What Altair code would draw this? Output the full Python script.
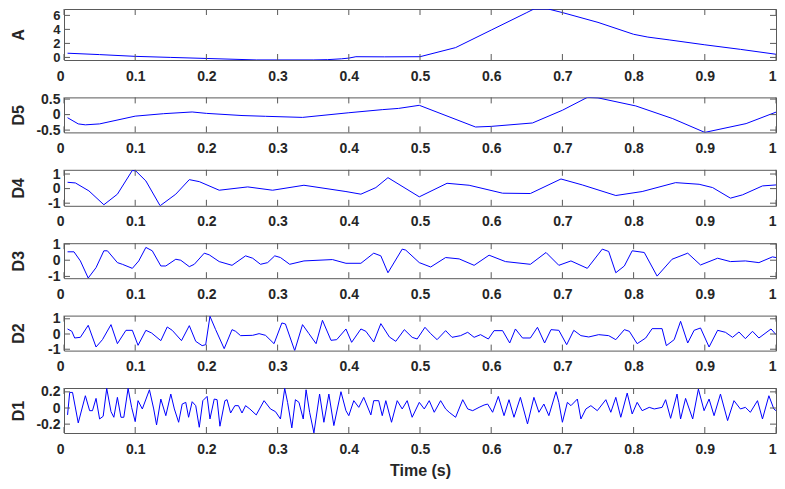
import altair as alt
import pandas as pd

# ---------------- data ----------------
X_TICKS = [0, 0.1, 0.2, 0.3, 0.4, 0.5, 0.6, 0.7, 0.8, 0.9, 1]

A_T = [0.005, 0.05, 0.1, 0.15, 0.2, 0.25, 0.27, 0.3, 0.35, 0.37, 0.39, 0.4, 0.41, 0.45, 0.5,
       0.55, 0.6, 0.65, 0.66, 0.68, 0.7, 0.75, 0.8, 0.82, 0.85, 0.9, 0.95, 1.0]
A_V = [0.6, 0.4, 0.15, 0.0, -0.15, -0.3, -0.36, -0.36, -0.36, -0.32, -0.2, -0.1, 0.1, 0.08, 0.1,
       1.4, 3.9, 6.4, 6.91, 6.91, 6.4, 5.0, 3.3, 2.9, 2.5, 1.8, 1.15, 0.45]

D5_T = [0.005, 0.02, 0.03, 0.05, 0.1, 0.14, 0.18, 0.2, 0.25, 0.283, 0.335, 0.4, 0.447, 0.47, 0.499,
        0.578, 0.6, 0.658, 0.7, 0.735, 0.75, 0.803, 0.855, 0.9, 0.958, 1.0]
D5_V = [-0.1, -0.3, -0.33, -0.3, -0.05, 0.03, 0.085, 0.04, -0.03, -0.055, -0.09, 0.06, 0.16, 0.2, 0.3,
        -0.4, -0.38, -0.27, 0.14, 0.555, 0.54, 0.28, -0.13, -0.574, -0.29, 0.08]

D4_T = [0.005, 0.016, 0.035, 0.056, 0.075, 0.096, 0.101, 0.115, 0.135, 0.157, 0.176, 0.19, 0.218,
        0.258, 0.293, 0.337, 0.396, 0.417, 0.438, 0.455, 0.499, 0.538, 0.569, 0.616, 0.655, 0.698,
        0.728, 0.775, 0.812, 0.859, 0.892, 0.911, 0.936, 0.953, 0.981, 1.0]
D4_V = [0.433, 0.388, -0.156, -1.109, -0.383, 1.249, 1.204, 0.524, -1.177, -0.383, 0.615, 0.478, -0.111,
        0.116, -0.111, 0.229, -0.202, -0.383, 0.07, 0.751, -0.565, 0.365, 0.229, -0.315, -0.338, 0.66,
        0.252, -0.474, -0.202, 0.41, 0.297, 0.07, -0.655, -0.429, 0.184, 0.252]

D3_T = [0.005, 0.014, 0.023, 0.034, 0.045, 0.056, 0.061, 0.075, 0.082, 0.096, 0.105, 0.115, 0.124,
        0.136, 0.143, 0.157, 0.164, 0.176, 0.183, 0.197, 0.204, 0.218, 0.236, 0.255, 0.265, 0.276,
        0.286, 0.296, 0.304, 0.317, 0.337, 0.377, 0.396, 0.417, 0.435, 0.445, 0.455, 0.475, 0.48,
        0.499, 0.515, 0.536, 0.555, 0.576, 0.597, 0.62, 0.655, 0.677, 0.695, 0.712, 0.735, 0.756,
        0.765, 0.775, 0.787, 0.798, 0.815, 0.833, 0.854, 0.876, 0.894, 0.918, 0.936, 0.957, 0.976,
        0.995, 1.0]
D3_V = [0.519, 0.519, -0.044, -1.1, -0.46, 0.581, 0.581, -0.148, -0.252, -0.502, -0.044, 0.79, 0.581,
        -0.356, -0.356, 0.06, -0.002, -0.398, -0.252, 0.435, 0.331, -0.085, -0.315, 0.269, 0.123, -0.252,
        -0.148, 0.269, 0.165, -0.252, -0.044, 0.04, -0.19, -0.19, 0.435, 0.269, -0.773, 0.685, 0.623,
        -0.148, -0.419, 0.165, 0.081, -0.315, 0.31, -0.085, -0.252, 0.477, -0.315, -0.044, -0.502, 0.685,
        0.54, -0.773, -0.356, 0.581, 0.477, -0.981, 0.06, 0.435, -0.294, 0.123, -0.085, -0.044, -0.148,
        0.206, 0.165]

D2_T = [0.005, 0.011, 0.015, 0.023, 0.034, 0.045, 0.054, 0.066, 0.075, 0.087, 0.096, 0.104, 0.115,
        0.123, 0.136, 0.145, 0.152, 0.165, 0.176, 0.185, 0.194, 0.199, 0.205, 0.213, 0.225, 0.236,
        0.241, 0.248, 0.265, 0.274, 0.283, 0.295, 0.306, 0.311, 0.324, 0.335, 0.344, 0.354, 0.363,
        0.375, 0.383, 0.396, 0.404, 0.417, 0.424, 0.435, 0.445, 0.457, 0.466, 0.478, 0.489, 0.496,
        0.507, 0.515, 0.524, 0.536, 0.545, 0.557, 0.567, 0.576, 0.585, 0.596, 0.604, 0.616, 0.626,
        0.634, 0.644, 0.655, 0.665, 0.675, 0.684, 0.695, 0.706, 0.716, 0.726, 0.737, 0.751, 0.765,
        0.775, 0.787, 0.794, 0.805, 0.817, 0.826, 0.84, 0.846, 0.857, 0.866, 0.876, 0.885, 0.894,
        0.906, 0.918, 0.929, 0.939, 0.948, 0.957, 0.967, 0.976, 0.993, 1.0]
D2_V = [0.331, 0.178, -0.261, -0.217, 0.572, -0.853, -0.371, 0.616, -0.634, 0.243, 0.243, -0.743, 0.243,
        0.068, -0.436, 0.463, 0.243, -0.436, 0.55, -0.48, -0.765, -0.7, 1.164, 0.287, -0.963, 0.287,
        0.178, -0.107, -0.086, 0.024, -0.086, -0.634, 0.726, 0.66, -1.094, 0.616, 0.024, -0.634, 0.901,
        -0.414, -0.371, 0.331, -0.546, 0.331, 0.178, -0.524, 0.682, -0.195, -0.48, 0.287, -0.217, -0.327,
        0.441, 0.024, -0.371, 0.221, -0.217, -0.107, 0.112, -0.217, -0.042, -0.327, 0.221, 0.221, -0.59,
        0.331, -0.261, -0.261, 0.441, -0.59, 0.287, 0.243, -0.7, 0.243, -0.107, -0.195, -0.042, -0.107,
        -0.371, 0.287, 0.178, -0.634, -0.261, 0.353, 0.353, -0.765, -0.371, 0.836, -0.59, 0.243, 0.397,
        -0.853, 0.243, 0.112, -0.217, 0.134, -0.305, 0.178, -0.261, 0.331, -0.042]

D1_T = [0.005, 0.008, 0.012, 0.02, 0.03, 0.036, 0.04, 0.045, 0.05, 0.055, 0.06, 0.066, 0.07, 0.075,
        0.08, 0.084, 0.09, 0.095, 0.1, 0.104, 0.11, 0.12, 0.126, 0.13, 0.136, 0.143, 0.15, 0.155,
        0.161, 0.166, 0.171, 0.175, 0.18, 0.185, 0.19, 0.195, 0.201, 0.205, 0.211, 0.215, 0.219,
        0.226, 0.229, 0.234, 0.24, 0.245, 0.25, 0.255, 0.261, 0.27, 0.281, 0.29, 0.297, 0.304, 0.31,
        0.314, 0.32, 0.325, 0.33, 0.336, 0.34, 0.345, 0.351, 0.359, 0.365, 0.372, 0.379, 0.389,
        0.396, 0.4, 0.407, 0.414, 0.421, 0.431, 0.435, 0.442, 0.447, 0.452, 0.46, 0.468, 0.475,
        0.482, 0.489, 0.499, 0.506, 0.513, 0.52, 0.529, 0.536, 0.541, 0.55, 0.56, 0.567, 0.574,
        0.583, 0.59, 0.595, 0.602, 0.61, 0.618, 0.625, 0.632, 0.641, 0.651, 0.66, 0.667, 0.674,
        0.681, 0.691, 0.695, 0.7, 0.707, 0.712, 0.721, 0.726, 0.733, 0.74, 0.749, 0.761, 0.768,
        0.775, 0.782, 0.791, 0.798, 0.805, 0.812, 0.822, 0.829, 0.84, 0.845, 0.852, 0.861, 0.866,
        0.873, 0.883, 0.891, 0.899, 0.906, 0.913, 0.922, 0.932, 0.941, 0.95, 0.957, 0.964, 0.974,
        0.981, 0.99, 0.997, 1.0]
D1_V = [-0.086, 0.193, 0.193, -0.185, 0.152, -0.033, -0.033, 0.119, -0.136, -0.103, 0.243, -0.045,
        -0.115, 0.132, -0.115, -0.115, 0.243, 0.008, -0.169, 0.091, -0.012, 0.226, -0.012, -0.21, 0.111,
        -0.095, 0.173, -0.012, -0.177, 0.049, 0.07, -0.115, 0.078, 0.029, -0.239, 0.091, 0.144, -0.136,
        0.111, 0.103, -0.226, 0.091, 0.103, -0.062, 0.029, 0.029, -0.062, 0.029, -0.012, -0.086, 0.091,
        -0.012, -0.045, -0.136, 0.243, 0.07, -0.247, 0.103, 0.07, -0.136, 0.226, -0.053, -0.309, 0.173,
        -0.177, 0.173, -0.218, 0.202, -0.033, -0.095, 0.091, 0.008, 0.132, -0.086, 0.091, 0.091, -0.095,
        0.091, -0.177, 0.091, -0.012, 0.091, -0.115, 0.07, -0.012, 0.091, -0.053, 0.091, -0.012, -0.053,
        -0.115, 0.103, -0.012, -0.033, 0.008, 0.037, 0.049, -0.053, 0.144, -0.095, 0.103, -0.115, 0.132,
        -0.198, 0.132, -0.053, 0.049, -0.095, 0.202, 0.07, -0.177, 0.07, 0.029, 0.111, -0.136, -0.012,
        0.029, -0.033, 0.103, -0.053, 0.132, -0.115, 0.185, -0.074, 0.07, -0.033, 0.008, -0.012, 0.008,
        0.103, -0.128, 0.173, -0.136, 0.119, -0.136, 0.235, -0.033, 0.111, -0.095, 0.173, -0.156, 0.091,
        -0.012, 0.008, -0.053, 0.091, -0.136, 0.152, -0.012, -0.033]

PANELS = [
    ("A", A_T, A_V, [-0.37, 6.91], [0, 2, 4, 6], 51, 13),
    ("D5", D5_T, D5_V, [-0.574, 0.555], [-0.5, 0, 0.5], 35, 14),
    ("D4", D4_T, D4_V, [-1.18, 1.29], [-1, 0, 1], 36, 14),
    ("D3", D3_T, D3_V, [-1.11, 1.05], [-1, 0, 1], 35, 14),
    ("D2", D2_T, D2_V, [-1.09, 1.21], [-1, 0, 1], 35, 14),
    ("D1", D1_T, D1_V, [-0.31, 0.248], [-0.2, 0, 0.2], 45, 14),
]

# ---------------- styling ----------------
W = 712
TICK = 6
FONT = "Liberation Sans"
FRAME = "#5a5a5a"
TXT = "#262626"


def make_panel(name, ts, vs, dom, yticks, h, yfs, last):
    df = pd.DataFrame({"t": ts, "v": vs})
    xt = pd.DataFrame({"t": X_TICKS})
    ytd = pd.DataFrame({"v": yticks})

    x_axis_kw = dict(values=X_TICKS, labelExpr="'' + datum.value", ticks=False, domain=False,
                     grid=False, labelFontSize=14, labelFontWeight="bold", labelFont=FONT,
                     labelColor=TXT, labelPadding=9, labelFlush=False, labelOverlap=False,
                     labelAlign={"condition": {"test": "datum.value == 0 || datum.value == 1",
                                               "value": "right"}, "value": "center"})
    if last:
        x_axis_kw.update(title="Time (s)", titleFont=FONT, titleFontSize=16,
                         titleFontWeight="bold", titleColor=TXT, titlePadding=6)
    else:
        x_axis_kw.update(title=None)
    x_axis = alt.Axis(**x_axis_kw)
    y_axis = alt.Axis(
        values=yticks, labelExpr="'' + datum.value", ticks=False, domain=False, grid=False,
        labelFontSize=yfs, labelFontWeight="bold", labelFont=FONT, labelColor=TXT,
        labelPadding=4, labelOverlap=False, labelFlush=False,
        title=name, titleFont=FONT, titleFontSize=16, titleFontWeight="bold", titleColor=TXT,
        titleAngle=270, titleAlign="center", titleBaseline="middle",
        titleX=-46, titleY=h / 2)

    xs = alt.Scale(domain=[0, 1], nice=False, zero=False)
    ys = alt.Scale(domain=dom, nice=False, zero=False)

    line = alt.Chart(df).mark_line(color="#0000ff", strokeWidth=1, clip=True).encode(
        x=alt.X("t:Q", scale=xs, axis=x_axis),
        y=alt.Y("v:Q", scale=ys, axis=y_axis),
    )
    xt_top = alt.Chart(xt).mark_rule(color=FRAME, strokeWidth=1).encode(
        x=alt.X("t:Q", scale=xs, axis=x_axis), y=alt.value(0), y2=alt.value(TICK))
    xt_bot = alt.Chart(xt).mark_rule(color=FRAME, strokeWidth=1).encode(
        x=alt.X("t:Q", scale=xs, axis=x_axis), y=alt.value(h), y2=alt.value(h - TICK))
    yt_l = alt.Chart(ytd).mark_rule(color=FRAME, strokeWidth=1).encode(
        y=alt.Y("v:Q", scale=ys, axis=y_axis), x=alt.value(0), x2=alt.value(TICK))
    yt_r = alt.Chart(ytd).mark_rule(color=FRAME, strokeWidth=1).encode(
        y=alt.Y("v:Q", scale=ys, axis=y_axis), x=alt.value(W), x2=alt.value(W - TICK))
    return alt.layer(line, xt_top, xt_bot, yt_l, yt_r).properties(width=W, height=h)


charts = [make_panel(n, t, v, d, yt, h, fs, i == len(PANELS) - 1)
          for i, (n, t, v, d, yt, h, fs) in enumerate(PANELS)]

chart = alt.vconcat(*charts, spacing=37.4, bounds="flush").properties(
    padding={"left": 1, "top": 0, "right": 0, "bottom": 4},
    background="white",
).configure_view(stroke=FRAME, strokeWidth=1)

chart.save("out.html", embed_options={"renderer": "svg", "actions": False})
